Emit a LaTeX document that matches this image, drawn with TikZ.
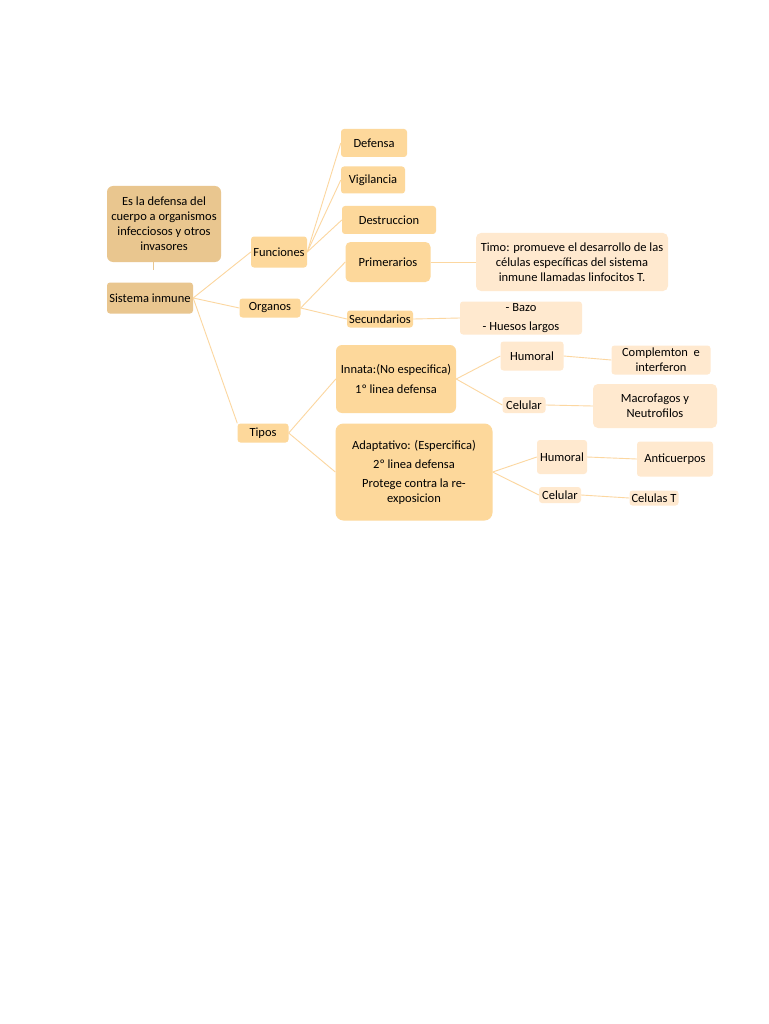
\documentclass[tikz,border=0pt]{standalone}
\usepackage{fontspec}
\setmainfont{Carlito}
\usetikzlibrary{positioning}
\definecolor{tanbox}{HTML}{E9C68F}
\definecolor{peach}{HTML}{FDD89B}
\definecolor{cream}{HTML}{FFE9CF}
\definecolor{wire}{HTML}{FCD7A0}
\tikzset{
  box/.style={fill=peach,rounded corners=3pt,inner sep=1pt,align=center,
    font=\fontsize{12.5}{15}\selectfont},
  rootbox/.style={box,fill=tanbox},
  leafbox/.style={box,fill=cream},
  link/.style={draw=wire,line width=0.9pt}
}
\begin{document}
\begin{tikzpicture}[x=1pt,y=-1pt]
    \fill[white](0,0)rectangle(768,1024);
    \useasboundingbox(0,0)rectangle(768,1024);
    % raiz
    \node[rootbox,minimum width=114pt,minimum height=76pt,rounded corners=6pt](def)at(164,224){Es la defensa del\\cuerpo a organismos\\infecciosos y otros\\invasores};
    \node[rootbox,minimum width=86pt,minimum height=31pt](sis)at(150,298){Sistema inmune};
    % primer nivel
    \node[box,minimum width=56pt,minimum height=31pt](fun)at(279,252){Funciones};
    \node[box,minimum width=61pt,minimum height=19pt](org)at(270,308){Organos};
    \node[box,minimum width=51pt,minimum height=19pt](tip)at(263,433){Tipos};
    % funciones
    \node[box,minimum width=66pt,minimum height=28pt](dfs)at(374,143){Defensa};
    \node[box,minimum width=64pt,minimum height=27pt](vig)at(373,180){Vigilancia};
    \node[box,minimum width=94pt,minimum height=28pt](des)at(389,220){Destruccion};
    % organos
    \node[box,minimum width=85pt,minimum height=40pt,rounded corners=5pt](pri)at(388,262){Primerarios};
    \node[box,minimum width=66pt,minimum height=17pt](sec)at(380,319){Secundarios};
    \node[leafbox,minimum width=192pt,minimum height=58pt,rounded corners=5pt](tim)at(572,262){Timo: promueve el desarrollo de las\\células específicas del sistema\\inmune llamadas linfocitos T.};
    \node[leafbox,minimum width=122pt,minimum height=33pt](baz)at(521,318){- Bazo\\[4pt]- Huesos largos};
    % tipos
    \node[box,minimum width=120pt,minimum height=68pt,rounded corners=6pt](inn)at(396,379){Innata:(No especifica)\\[5pt]1º linea defensa};
    \node[box,minimum width=157pt,minimum height=97pt,rounded corners=8pt](ada)at(414,472){Adaptativo: (Espercifica)\\[4pt]2º linea defensa\\[4pt]Protege contra la re-\\exposicion};
    \node[leafbox,minimum width=63pt,minimum height=29pt](hu1)at(532,356){Humoral};
    \node[leafbox,minimum width=43pt,minimum height=16pt](ce1)at(524,405){Celular};
    \node[leafbox,minimum width=99pt,minimum height=29pt](com)at(661,360){Complemton\ \ e\\interferon};
    \node[leafbox,minimum width=124pt,minimum height=44pt,rounded corners=5pt](mac)at(655,406){Macrofagos y\\Neutrofilos};
    \node[leafbox,minimum width=50pt,minimum height=34pt](hu2)at(562,457){Humoral};
    \node[leafbox,minimum width=42pt,minimum height=16pt](ce2)at(560,495){Celular};
    \node[leafbox,minimum width=76pt,minimum height=35pt](ant)at(675,459){Anticuerpos};
    \node[leafbox,minimum width=49pt,minimum height=15pt](cet)at(654,498){Celulas T};
    % conectores
    \draw[draw=tanbox,line width=1pt]([xshift=3pt]def.south-|sis.north)--++(0,8);
    \draw[link](sis.east)--(fun.west);
    \draw[link](sis.east)--(org.west);
    \draw[link](sis.east)--(tip.north west);
    \foreach \n in {dfs,vig,des}
      \draw[link](fun.east)--(\n.west);
    \draw[link](org.east)--(pri.west);
    \draw[link](org.east)--(sec.west);
    \draw[link](pri.east)--(tim.west);
    \draw[link](sec.east)--(baz.west);
    \draw[link](tip.east)--(inn.west);
    \draw[link](tip.east)--(ada.west);
    \draw[link](inn.east)--(hu1.west);
    \draw[link](inn.east)--(ce1.west);
    \draw[link](hu1.east)--(com.west);
    \draw[link](ce1.east)--(mac.west);
    \draw[link](ada.east)--(hu2.west);
    \draw[link](ada.east)--(ce2.west);
    \draw[link](hu2.east)--(ant.west);
    \draw[link](ce2.east)--(cet.west);
\end{tikzpicture}
\end{document}
